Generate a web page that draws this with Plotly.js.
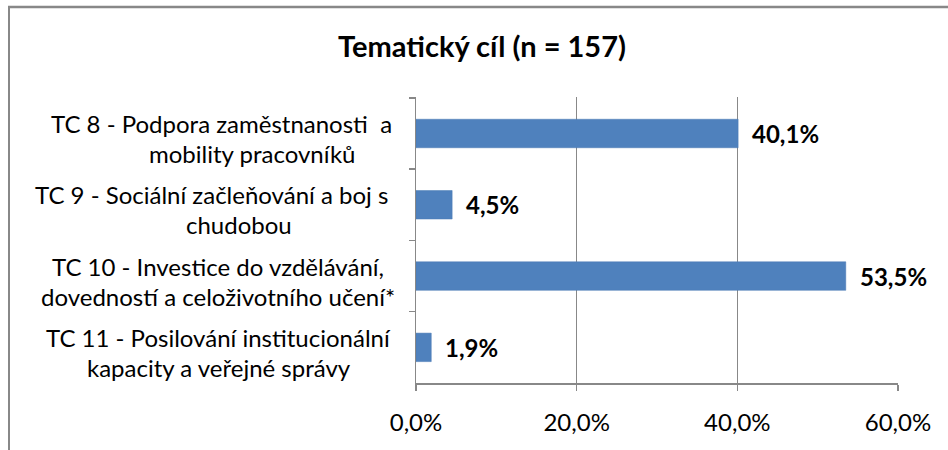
<!DOCTYPE html>
<html>
<head>
<meta charset="utf-8">
<script src="https://cdn.plot.ly/plotly-3.0.1.min.js"></script>
<style>
html,body{margin:0;padding:0;overflow:hidden;background:#fff;}
#chart{width:948px;height:450px;}
</style>
</head>
<body>
<div id="chart"></div>
<script>
const categories = [
  "TC 8 - Podpora zaměstnanosti  a<br>mobility pracovníků",
  "TC 9 - Sociální začleňování a boj s<br>chudobou",
  "TC 10 - Investice do vzdělávání,<br>dovedností a celoživotního učení*",
  "TC 11 - Posilování institucionální<br>kapacity a veřejné správy"
];
const values = [40.1, 4.5, 53.5, 1.9];
const valueLabels = ["40,1%", "4,5%", "53,5%", "1,9%"];
const xTicks = [0, 20, 40, 60];
const xTickLabels = ["0,0%", "20,0%", "40,0%", "60,0%"];

const FONT = "Lato, 'Open Sans', sans-serif";
const plotLeft = 416, plotWidth = 482, plotTop = 97, plotBottom = 383;
const LABEL_SIZE = 24;
// horizontal centre (px) of each wrapped line of the category labels
const lineCentersPx = [[221, 252], [211, 239], [218, 218], [218, 219]];
const lineShift = [10, -20];
const px2paper = px => (px - plotLeft) / plotWidth;
const ph = plotBottom - plotTop;
const py2paper = py => (plotBottom - py) / ph;

const annotations = [];
categories.forEach((c, i) => {
  c.split('<br>').forEach((line, j) => {
    annotations.push({
      xref: 'paper', yref: 'y', x: px2paper(lineCentersPx[i][j]), y: c,
      xanchor: 'center', yanchor: 'middle', yshift: lineShift[j], showarrow: false,
      text: line, font: {family: FONT, size: LABEL_SIZE, color: '#000'}
    });
  });
  annotations.push({
    xref: 'x', yref: 'y', x: values[i], y: c, xanchor: 'left', yanchor: 'middle',
    xshift: 12, showarrow: false, text: '<b>' + valueLabels[i] + '</b>',
    font: {family: FONT, size: LABEL_SIZE, color: '#000'}
  });
});

const trace = {
  type: 'bar', orientation: 'h', y: categories, x: values,
  marker: {color: '#4F81BD', line: {color: '#4a7ab4', width: 0.5}},
  hoverinfo: 'none'
};

const layout = {
  width: 948, height: 450,
  margin: {l: plotLeft, r: 948 - plotLeft - plotWidth, t: plotTop, b: 450 - plotBottom},
  paper_bgcolor: '#fff', plot_bgcolor: '#fff',
  showlegend: false,
  bargap: 0.6,
  title: {text: '<b>Tematický cíl (n = 157)</b>', x: 482 / 948, xref: 'container', xanchor: 'center',
          y: 1 - 47 / 450, yref: 'container', yanchor: 'middle',
          font: {family: FONT, size: 29, color: '#000'}},
  xaxis: {
    range: [0, 60], tickvals: xTicks, ticktext: xTickLabels,
    showgrid: true, gridcolor: '#888', gridwidth: 1.5,
    showline: true, linecolor: '#888', linewidth: 1.5,
    ticks: 'outside', ticklen: 6, tickcolor: '#888', tickwidth: 1.5,
    ticklabelstandoff: 12,
    tickfont: {family: FONT, size: LABEL_SIZE, color: '#000'}, zeroline: false, fixedrange: true
  },
  yaxis: {
    type: 'category', autorange: 'reversed', showticklabels: false,
    showline: true, linecolor: '#888', linewidth: 1.5,
    ticks: 'outside', tickson: 'boundaries', ticklen: 6, tickcolor: '#888', tickwidth: 1.5,
    showgrid: false, zeroline: false, fixedrange: true
  },
  shapes: [
    {type: 'line', xref: 'paper', yref: 'paper', layer: 'above',
     x0: px2paper(8), x1: px2paper(948), y0: py2paper(7), y1: py2paper(7),
     line: {color: '#888', width: 2.5}},
    {type: 'line', xref: 'paper', yref: 'paper', layer: 'above',
     x0: px2paper(9), x1: px2paper(9), y0: py2paper(6), y1: py2paper(450),
     line: {color: '#888', width: 2}}
  ],
  annotations: annotations
};

Plotly.newPlot('chart', [trace], layout, {staticPlot: true, displayModeBar: false});
</script>
</body>
</html>
